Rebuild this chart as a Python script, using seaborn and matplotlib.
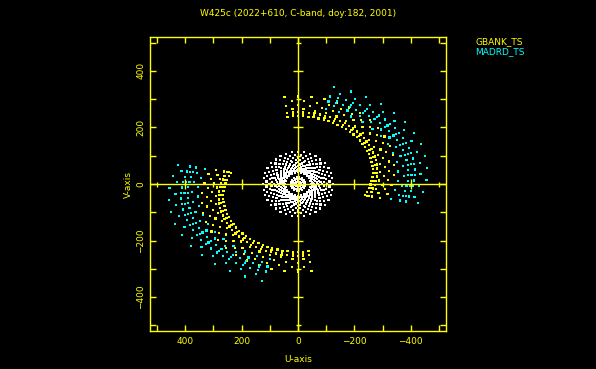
import numpy as np
import pandas as pd
import seaborn as sns
import matplotlib.pyplot as plt
from matplotlib.ticker import MultipleLocator

# one half-track per baseline, (u, v)
gbank_u = [37, 18, 0, -18, -37, -55, -73, -91, -108, -124, -140, -156, -170, -184, -197, -209,
           -220, -229, -238, -246, -252, -257, -261, -264, -265, -265, -264, -261, -257, -252, -246, -238]
gbank_v = [238, 240, 240, 240, 238, 236, 232, 228, 223, 217, 210, 203, 194, 185, 175, 165,
           154, 142, 130, 118, 105, 92, 79, 65, 52, 38, 25, 11, -2, -15, -28, -40]
madrd_u = [-109, -135, -161, -185, -209, -232, -254, -274, -294, -311, -327, -342, -355,
           -366, -376, -383, -389, -393, -395, -395, -393, -389, -383, -376, -366]
madrd_v = [295, 289, 282, 274, 265, 254, 243, 231, 217, 203, 188, 173, 156,
           139, 122, 104, 86, 68, 49, 31, 12, -6, -24, -42, -59]
short_u = [0, -9, -17, -26, -34, -42, -50, -57, -64, -71, -77, -82, -87, -91, -94, -97, -98, -100,
           -100, -100, -98, -97, -94, -91, -87, -82, -77, -71, -64, -57, -50, -42, -34, -26, -17, -9]
short_v = [92, 92, 91, 89, 86, 83, 80, 75, 70, 65, 59, 53, 46, 39, 31, 24, 16, 8,
           0, -8, -16, -24, -31, -39, -46, -53, -59, -65, -70, -75, -80, -83, -86, -89, -91, -92]

# radial spread of the parallel tracks and how many samples each one keeps
gbank_scales = [1.0, 1.03, 1.06, 1.1, 1.16, 1.22, 1.29]
gbank_every = [1, 2, 1, 2, 2, 2, 2]
madrd_scales = [0.9, 0.95, 0.99, 1.02, 1.05, 1.1, 1.16]
madrd_every = [2, 2, 1, 2, 1, 2, 2]
short_scales = [0.1, 0.2, 0.26, 0.46, 0.5, 0.54, 0.58, 0.62, 0.66, 0.7, 0.75, 0.8,
                0.86, 0.93, 1.02, 1.12, 1.24]
short_every = [6, 4, 4, 3, 3, 3, 3, 3, 3, 3, 3, 3, 3, 2, 2, 2, 2]

title = "W425c (2022+610, C-band, doy:182, 2001)"
legend_names = ["GBANK_TS", "MADRD_TS"]
YEL = "#ffff00"
CYA = "#00ffff"
palette = {"other": "#ffffff", "GBANK_TS": YEL, "MADRD_TS": CYA}
major_ticks = [-400, -200, 200, 400]
minor_ticks = [-500, -300, -100, 100, 300, 500]


def tracks(name, u, v, scales, every):
    u = np.asarray(u, float)
    v = np.asarray(v, float)
    parts = []
    for k, (s, n) in enumerate(zip(scales, every)):
        uu = u[k % n::n] * s
        vv = v[k % n::n] * s
        # visibility plus its conjugate
        parts.append(pd.DataFrame({"u": np.r_[uu, -uu], "v": np.r_[vv, -vv], "baseline": name}))
    return pd.concat(parts)


df = pd.concat([tracks("other", short_u, short_v, short_scales, short_every),
                tracks("GBANK_TS", gbank_u, gbank_v, gbank_scales, gbank_every),
                tracks("MADRD_TS", madrd_u, madrd_v, madrd_scales, madrd_every)],
               ignore_index=True)

sns.set_style("dark")
plt.rcParams["font.family"] = ["DejaVu Sans"]

fig = plt.figure(figsize=(5.96, 3.69), dpi=100, facecolor="black")
ax = fig.add_axes([150 / 596, 38 / 369, 296 / 596, 294 / 369])
ax.set_facecolor("black")

sns.scatterplot(data=df, x="u", y="v", hue="baseline", palette=palette,
                marker="s", s=2.5, linewidth=0, legend=False, ax=ax, zorder=3)

# zero lines with their own tick marks
ax.axhline(0, color=YEL, lw=1, zorder=4)
ax.axvline(0, color=YEL, lw=1, zorder=4)
ax.plot(major_ticks, [0] * len(major_ticks), ls="none", marker="|", ms=6.5, mew=1, color=YEL, zorder=4)
ax.plot(minor_ticks, [0] * len(minor_ticks), ls="none", marker="|", ms=3.6, mew=1, color=YEL, zorder=4)
ax.plot([0] * len(major_ticks), major_ticks, ls="none", marker="_", ms=6.5, mew=1, color=YEL, zorder=4)
ax.plot([0] * len(minor_ticks), minor_ticks, ls="none", marker="_", ms=3.6, mew=1, color=YEL, zorder=4)

ax.set_xlim(525, -525)
ax.set_ylim(-520, 520)
ax.grid(False)
for sp in ax.spines.values():
    sp.set_visible(True)
    sp.set_color(YEL)
    sp.set_linewidth(1)

ax.xaxis.set_major_locator(MultipleLocator(200))
ax.xaxis.set_minor_locator(MultipleLocator(100))
ax.yaxis.set_major_locator(MultipleLocator(200))
ax.yaxis.set_minor_locator(MultipleLocator(100))
ax.tick_params(which="both", direction="in", length=4, width=1, color=YEL,
               top=True, right=True, bottom=True, left=True)
ax.tick_params(which="major", labelcolor=YEL, labelsize=6.5)
ax.tick_params(axis="x", pad=4)
ax.tick_params(axis="y", pad=3.5)
for lab in ax.get_yticklabels():
    lab.set_rotation(90)
    lab.set_va("center")

ax.set_xlabel("U-axis", color=YEL, fontsize=6.5, labelpad=7)
ax.set_ylabel("V-axis", color=YEL, fontsize=6.5, labelpad=2.5)
ax.set_title(title, color=YEL, fontsize=6.5, pad=15)

fig.text(475 / 596, 1 - 41.5 / 369, legend_names[0], color=YEL, fontsize=6.5, va="center")
fig.text(475 / 596, 1 - 52 / 369, legend_names[1], color=CYA, fontsize=6.5, va="center")

fig.savefig("out.png", dpi=100, facecolor="black")
